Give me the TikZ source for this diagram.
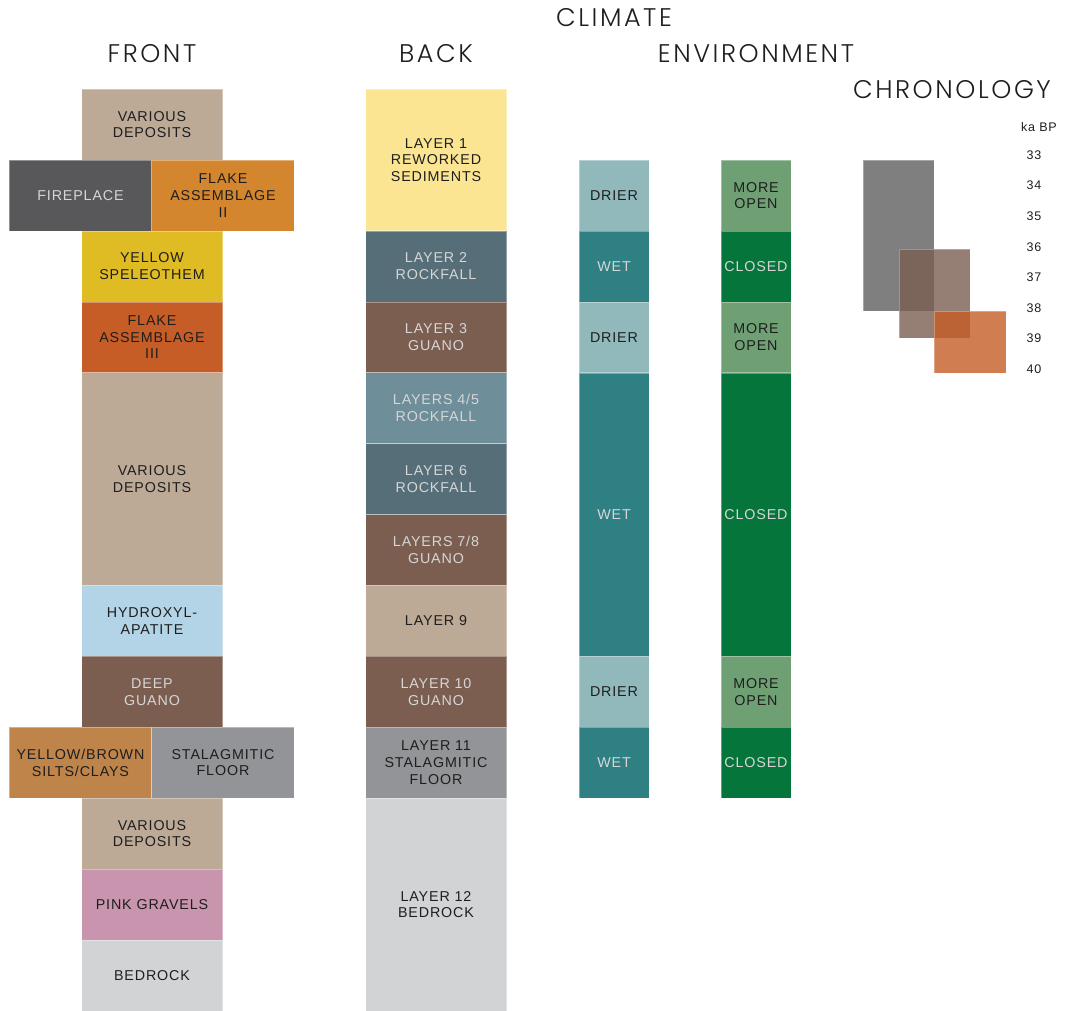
\documentclass[tikz,border=0pt]{standalone}
\usepackage{fontspec}
\setmainfont{Liberation Sans}[LetterSpace=6]
\newfontfamily\headfont{Poppins Light}[LetterSpace=10]

% sediment / proxy colours
\definecolor{deposit}{HTML}{BCA996}
\definecolor{hearth}{HTML}{58585A}
\definecolor{flakeii}{HTML}{D4862F}
\definecolor{speleo}{HTML}{DFBB24}
\definecolor{flakeiii}{HTML}{C65D27}
\definecolor{apatite}{HTML}{B3D4E6}
\definecolor{guano}{HTML}{7B5E50}
\definecolor{silts}{HTML}{BE8449}
\definecolor{floorgrey}{HTML}{939497}
\definecolor{gravel}{HTML}{C995AE}
\definecolor{bedrock}{HTML}{D2D3D5}
\definecolor{reworked}{HTML}{FBE593}
\definecolor{rockfall}{HTML}{566E78}
\definecolor{rockfalllt}{HTML}{6E8E99}
\definecolor{drier}{HTML}{91B9BC}
\definecolor{wet}{HTML}{2E8083}
\definecolor{openenv}{HTML}{6FA074}
\definecolor{closedenv}{HTML}{06753B}
\definecolor{agegrey}{HTML}{5F5F5F}
\definecolor{lighttext}{HTML}{D6D6D6}
\definecolor{darktext}{HTML}{1E1E1E}

\tikzset{
  layer/.style={rectangle, fill=#1, draw=white, draw opacity=0.35, line width=0.6pt,
    inner sep=0pt, minimum width=141pt, minimum height=70.9pt, align=center,
    text=darktext, font=\fontsize{14.3}{16.7}\selectfont},
  nrows/.style={minimum height=#1*70.9pt},
  narrow/.style={minimum width=70pt},
  wide/.style={minimum width=142.5pt},
  lite/.style={text=lighttext},
  colhead/.style={font=\headfont\fontsize{25.5}{30}\selectfont, text=darktext},
  age/.style={font=\fontsize{12.5}{15}\selectfont, text=darktext},
  dating/.style={rectangle, fill=#1, fill opacity=0.8, draw=white, draw opacity=0.3,
    inner sep=0pt}
}

\begin{document}
\begin{tikzpicture}[x=1pt, y=-1pt]
\useasboundingbox (0,0) rectangle (1068,1011);

% column headings
\node[colhead] (hfront) at (152,54) {FRONT};
\node[colhead] (hback) at (436,54) {BACK};
\node[colhead] (hclim) at (614,18) {CLIMATE};
\node[colhead] (henv) at (756,54) {ENVIRONMENT};
\node[colhead] (hchron) at (952,90) {CHRONOLOGY};

% front section
\node[layer=deposit] (f1) at (152,124.5) {VARIOUS\\DEPOSITS};
\node[layer=hearth, wide, lite] (fire) at (80.5,195.5) {FIREPLACE};
\node[layer=flakeii, wide] (flake2) at (223,195.5) {FLAKE\\ASSEMBLAGE\\II};
\node[layer=speleo] (spel) at (152,266.4) {YELLOW\\SPELEOTHEM};
\node[layer=flakeiii] (flake3) at (152,337.3) {FLAKE\\ASSEMBLAGE\\III};
\node[layer=deposit, nrows=3] (f2) at (152,479.1) {VARIOUS\\DEPOSITS};
\node[layer=apatite] (hydro) at (152,620.9) {HYDROXYL-\\APATITE};
\node[layer=guano, lite] (fguano) at (152,691.8) {DEEP\\GUANO};
\node[layer=silts, wide] (silts) at (80.5,762.7) {YELLOW/BROWN\\SILTS/CLAYS};
\node[layer=floorgrey, wide] (fstal) at (223,762.7) {STALAGMITIC\\FLOOR};
\node[layer=deposit] (f3) at (152,833.6) {VARIOUS\\DEPOSITS};
\node[layer=gravel] (pink) at (152,904.5) {PINK GRAVELS};
\node[layer=bedrock] (fbed) at (152,975.4) {BEDROCK};

% back section
\node[layer=reworked, nrows=2] (b1) at (436,159.9) {LAYER 1\\REWORKED\\SEDIMENTS};
\node[layer=rockfall, lite] (b2) at (436,266.4) {LAYER 2\\ROCKFALL};
\node[layer=guano, lite] (b3) at (436,337.3) {LAYER 3\\GUANO};
\node[layer=rockfalllt, lite] (b45) at (436,408.2) {LAYERS 4/5\\ROCKFALL};
\node[layer=rockfall, lite] (b6) at (436,479.1) {LAYER 6\\ROCKFALL};
\node[layer=guano, lite] (b78) at (436,550) {LAYERS 7/8\\GUANO};
\node[layer=deposit] (b9) at (436,620.9) {LAYER 9};
\node[layer=guano, lite] (b10) at (436,691.8) {LAYER 10\\GUANO};
\node[layer=floorgrey] (b11) at (436,762.7) {LAYER 11\\STALAGMITIC\\FLOOR};
\node[layer=bedrock, nrows=3] (b12) at (436,904.5) {LAYER 12\\BEDROCK};

% climate
\node[layer=drier, narrow] (c1) at (614,195.5) {DRIER};
\node[layer=wet, narrow, lite] (c2) at (614,266.4) {WET};
\node[layer=drier, narrow] (c3) at (614,337.3) {DRIER};
\node[layer=wet, narrow, lite, nrows=4] (c4) at (614,514.6) {WET};
\node[layer=drier, narrow] (c5) at (614,691.8) {DRIER};
\node[layer=wet, narrow, lite] (c6) at (614,762.7) {WET};

% environment
\node[layer=openenv, narrow] (e1) at (756,195.5) {MORE\\OPEN};
\node[layer=closedenv, narrow, lite] (e2) at (756,266.4) {CLOSED};
\node[layer=openenv, narrow] (e3) at (756,337.3) {MORE\\OPEN};
\node[layer=closedenv, narrow, lite, nrows=4] (e4) at (756,514.6) {CLOSED};
\node[layer=openenv, narrow] (e5) at (756,691.8) {MORE\\OPEN};
\node[layer=closedenv, narrow, lite] (e6) at (756,762.7) {CLOSED};

% chronology
\node[dating=agegrey, minimum width=71pt, minimum height=151pt] (dfire) at (898.5,235.5) {};
\node[dating=guano, minimum width=71pt, minimum height=89pt] (dguano) at (934.5,293.5) {};
\node[dating=flakeiii, minimum width=72pt, minimum height=62pt] (dflake) at (970,342) {};

\node[age] (kabp) at (1039,127) {ka BP};
\foreach \k [count=\i from 0] in {33,...,40}
  \node[age] (ka\k) at (1034,{155+30.6*\i}) {\k};
\end{tikzpicture}
\end{document}
